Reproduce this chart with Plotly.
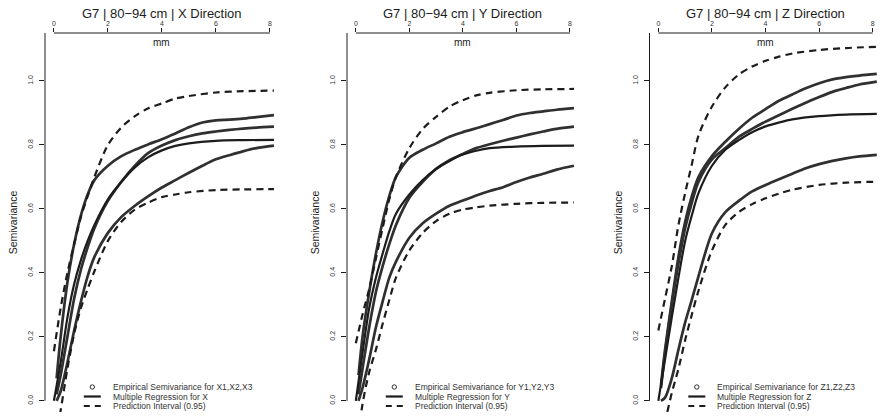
import plotly.graph_objects as go

# ---------------- data ----------------
lag_emp = [0.1, 0.25, 0.5, 0.75, 1, 1.25, 1.5, 2, 2.5, 3, 3.5, 4, 4.5, 5, 5.5, 6, 6.5, 7, 7.5, 8.15]
lag_fit = [0, 0.25, 0.5, 0.75, 1, 1.25, 1.5, 2, 2.5, 3, 3.5, 4, 4.5, 5, 6, 7, 8.15]

# X direction
emp_x1 = [0.07, 0.2, 0.37, 0.49, 0.58, 0.645, 0.69, 0.735, 0.765, 0.785, 0.802, 0.818, 0.836, 0.855, 0.87, 0.877, 0.879, 0.882, 0.887, 0.893]
emp_x2 = [0.02, 0.08, 0.2, 0.32, 0.41, 0.48, 0.54, 0.625, 0.685, 0.735, 0.775, 0.798, 0.815, 0.827, 0.836, 0.842, 0.847, 0.851, 0.854, 0.857]
emp_x3 = [0.0, 0.03, 0.12, 0.22, 0.31, 0.39, 0.45, 0.525, 0.575, 0.61, 0.64, 0.667, 0.69, 0.713, 0.735, 0.755, 0.768, 0.78, 0.79, 0.798]
reg_x = [0, 0.12, 0.26, 0.365, 0.44, 0.5, 0.55, 0.63, 0.685, 0.73, 0.762, 0.783, 0.797, 0.805, 0.813, 0.815, 0.816]
up_x = [0.155, 0.29, 0.4, 0.49, 0.575, 0.64, 0.7, 0.8, 0.855, 0.89, 0.915, 0.93, 0.945, 0.953, 0.964, 0.968, 0.97]
lo_x = [-0.155, -0.03, 0.1, 0.21, 0.29, 0.35, 0.405, 0.5, 0.56, 0.598, 0.62, 0.637, 0.645, 0.652, 0.659, 0.661, 0.662]

# Y direction
emp_y1 = [0.08, 0.2, 0.34, 0.46, 0.56, 0.64, 0.7, 0.76, 0.785, 0.805, 0.826, 0.84, 0.852, 0.865, 0.878, 0.892, 0.9, 0.905, 0.91, 0.915]
emp_y2 = [0.02, 0.1, 0.23, 0.34, 0.42, 0.49, 0.55, 0.635, 0.685, 0.725, 0.752, 0.772, 0.79, 0.802, 0.813, 0.823, 0.833, 0.842, 0.85, 0.857]
emp_y3 = [0.0, 0.04, 0.13, 0.23, 0.31, 0.385, 0.435, 0.51, 0.555, 0.585, 0.61, 0.626, 0.642, 0.656, 0.668, 0.684, 0.698, 0.71, 0.723, 0.735]
reg_y = [0, 0.15, 0.29, 0.385, 0.46, 0.53, 0.585, 0.645, 0.69, 0.725, 0.75, 0.77, 0.782, 0.79, 0.795, 0.797, 0.798]
up_y = [0.18, 0.27, 0.35, 0.445, 0.54, 0.63, 0.7, 0.79, 0.85, 0.888, 0.92, 0.94, 0.955, 0.963, 0.971, 0.974, 0.975]
lo_y = [-0.18, -0.01, 0.09, 0.16, 0.24, 0.315, 0.385, 0.47, 0.525, 0.562, 0.585, 0.598, 0.605, 0.61, 0.616, 0.619, 0.62]

# Z direction
emp_z1 = [0.05, 0.16, 0.31, 0.45, 0.56, 0.64, 0.7, 0.765, 0.81, 0.85, 0.885, 0.912, 0.938, 0.958, 0.977, 0.993, 1.005, 1.012, 1.017, 1.022]
emp_z2 = [0.04, 0.15, 0.3, 0.43, 0.54, 0.62, 0.685, 0.755, 0.79, 0.825, 0.85, 0.873, 0.893, 0.913, 0.932, 0.95, 0.966, 0.978, 0.989, 0.998]
emp_z3 = [0.0, 0.01, 0.07, 0.16, 0.245, 0.316, 0.39, 0.524, 0.59, 0.625, 0.655, 0.675, 0.693, 0.71, 0.727, 0.74, 0.75, 0.758, 0.764, 0.769]
reg_z = [0, 0.13, 0.26, 0.385, 0.5, 0.58, 0.65, 0.735, 0.785, 0.815, 0.84, 0.858, 0.87, 0.88, 0.89, 0.895, 0.897]
up_z = [0.22, 0.32, 0.42, 0.55, 0.65, 0.74, 0.83, 0.92, 0.98, 1.02, 1.045, 1.063, 1.076, 1.086, 1.097, 1.103, 1.107]
lo_z = [-0.22, -0.07, 0.024, 0.1, 0.19, 0.27, 0.345, 0.47, 0.55, 0.59, 0.615, 0.633, 0.648, 0.66, 0.675, 0.682, 0.685]

x_ticks = [0, 2, 4, 6, 8]
y_ticks = [0.0, 0.2, 0.4, 0.6, 0.8, 1.0]

panels = [
    {"title": "G7 | 80\u221294 cm | X Direction", "emp": [emp_x1, emp_x2, emp_x3], "reg": reg_x, "up": up_x, "lo": lo_x,
     "lab_emp": "Empirical Semivariance for X1,X2,X3", "lab_reg": "Multiple Regression for X"},
    {"title": "G7 | 80\u221294 cm | Y Direction", "emp": [emp_y1, emp_y2, emp_y3], "reg": reg_y, "up": up_y, "lo": lo_y,
     "lab_emp": "Empirical Semivariance for Y1,Y2,Y3", "lab_reg": "Multiple Regression for Y"},
    {"title": "G7 | 80\u221294 cm | Z Direction", "emp": [emp_z1, emp_z2, emp_z3], "reg": reg_z, "up": up_z, "lo": lo_z,
     "lab_emp": "Empirical Semivariance for Z1,Z2,Z3", "lab_reg": "Multiple Regression for Z"},
]
lab_pi = "Prediction Interval (0.95)"

# ---------------- layout geometry ----------------
W, H = 882, 417
x_domains = [(45, 278), (347, 578), (649.5, 880.8)]
y_dom = ((417 - 412) / H, (417 - 33) / H)
x_range = [-0.33, 8.3]
y_range = [-0.035, 1.15]
FONT = "Liberation Sans, Arial, sans-serif"
INK = "#1c1c1c"
EMP_INK = "#303030"
TXT = "#333333"

fig = go.Figure()

for i, p in enumerate(panels):
    xa = "x" if i == 0 else f"x{i+1}"
    ya = "y" if i == 0 else f"y{i+1}"
    # empirical semivariance curves (dense small circles -> thick textured line)
    for k, e in enumerate(p["emp"]):
        fig.add_trace(go.Scatter(x=lag_emp, y=e, mode="lines", xaxis=xa, yaxis=ya,
                                 line=dict(color=EMP_INK, width=2.7, shape="spline", smoothing=0.8),
                                 name=p["lab_emp"], showlegend=False))
    # regression
    fig.add_trace(go.Scatter(x=lag_fit, y=p["reg"], mode="lines", xaxis=xa, yaxis=ya,
                             line=dict(color=INK, width=2.2, shape="spline", smoothing=0.8),
                             name=p["lab_reg"], showlegend=False))
    # prediction interval
    for k, b in enumerate([p["up"], p["lo"]]):
        fig.add_trace(go.Scatter(x=lag_fit, y=b, mode="lines", xaxis=xa, yaxis=ya,
                                 line=dict(color=INK, width=2.2, dash="7px,5px", shape="spline", smoothing=0.8),
                                 name=lab_pi, showlegend=False))

layout = dict(
    width=W, height=H, autosize=False,
    margin=dict(l=0, r=0, t=0, b=0),
    paper_bgcolor="white", plot_bgcolor="white",
    font=dict(family=FONT, color=INK),
    showlegend=False,
)
shapes = []
annotations = []
leg_rows = [387, 396.5, 406]  # legend row centres (px from top)
for i, p in enumerate(panels):
    sfx = "" if i == 0 else str(i + 1)
    d0, d1 = x_domains[i]
    layout["xaxis" + sfx] = dict(
        domain=[d0 / W, d1 / W], range=x_range, anchor="y" + sfx, side="top",
        showline=False, showgrid=False, zeroline=False,
        tickvals=x_ticks, ticktext=[str(t) for t in x_ticks],
        ticks="outside", ticklen=4, tickwidth=1, tickcolor=INK,
        ticklabelstandoff=-1,
        tickfont=dict(size=7, color=TXT, family=FONT),
    )
    layout["yaxis" + sfx] = dict(
        domain=list(y_dom), range=y_range, anchor="x" + sfx,
        showline=False, showgrid=False, zeroline=False,
        tickvals=y_ticks, ticktext=[f"{t:.1f}" for t in y_ticks],
        ticks="outside", ticklen=5, tickwidth=1, tickcolor=INK, tickangle=-90,
        ticklabelstandoff=3,
        tickfont=dict(size=7, color=TXT, family=FONT),
        title=dict(text="Semivariance", font=dict(size=10.5, color=INK, family=FONT), standoff=7),
    )
    # axis lines R-style: spanning the tick range only
    shapes.append(dict(type="line", xref="x" + sfx, yref="y" + sfx + " domain",
                       x0=x_ticks[0], x1=x_ticks[-1], y0=1, y1=1, line=dict(color=INK, width=1)))
    shapes.append(dict(type="line", xref="x" + sfx + " domain", yref="y" + sfx,
                       x0=0, x1=0, y0=y_ticks[0], y1=y_range[1], line=dict(color=INK, width=1)))
    annotations.append(dict(text=p["title"], xref="x" + sfx, yref="paper", x=4, y=(H - 13) / H,
                            showarrow=False, font=dict(size=13, color=INK, family=FONT),
                            xanchor="center", yanchor="middle"))
    annotations.append(dict(text="mm", xref="x" + sfx, yref="paper", x=4, y=(H - 42) / H,
                            showarrow=False, font=dict(size=10, color=INK, family=FONT),
                            xanchor="center", yanchor="middle"))
    # legend (R-style, compact rows)
    cx = d0 + 47.3
    tx = d0 + 66.7
    labels = [p["lab_emp"], p["lab_reg"], lab_pi]
    for r, lab in enumerate(labels):
        annotations.append(dict(text=lab, xref="paper", yref="paper", x=tx / W, y=(H - leg_rows[r]) / H,
                                showarrow=False, xanchor="left", yanchor="middle", borderpad=0,
                                font=dict(size=8.5, color=TXT, family=FONT)))
    yr = [(H - v) / H for v in leg_rows]
    shapes.append(dict(type="circle", xref="paper", yref="paper",
                       x0=(cx - 2.2) / W, x1=(cx + 2.2) / W, y0=yr[0] - 2.2 / H, y1=yr[0] + 2.2 / H,
                       line=dict(color=EMP_INK, width=1)))
    shapes.append(dict(type="line", xref="paper", yref="paper",
                       x0=(cx - 8.5) / W, x1=(cx + 8.5) / W, y0=yr[1], y1=yr[1],
                       line=dict(color=INK, width=2.2)))
    shapes.append(dict(type="line", xref="paper", yref="paper",
                       x0=(cx - 8.5) / W, x1=(cx + 8.5) / W, y0=yr[2], y1=yr[2],
                       line=dict(color=INK, width=2.2, dash="6px,5px")))

layout["shapes"] = shapes
layout["annotations"] = annotations
fig.update_layout(**layout)

fig.write_html("out.html", config={"displayModeBar": False},
               post_script="document.body.style.margin='0';document.body.style.padding='0';")
